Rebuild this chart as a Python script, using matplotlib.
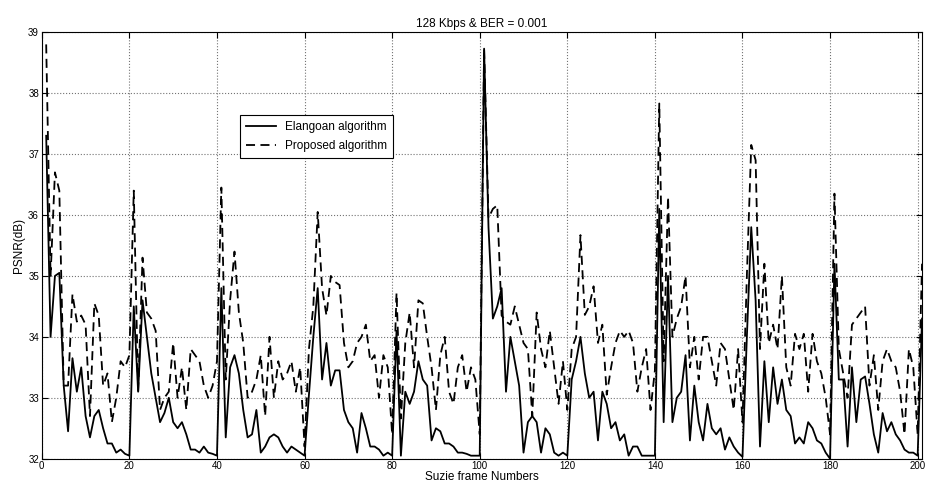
import numpy as np
from matplotlib import pyplot as plt

plt.rcParams['font.family'] = ['Liberation Sans', 'DejaVu Sans']

# frame numbers 1..201
frames = np.arange(1, 202)

# PSNR values (dB), 20 frames per row
elangoan = [
    37.3, 34.0, 35.0, 35.05, 33.2, 32.45, 33.65, 33.1, 33.5, 32.7,
    32.35, 32.7, 32.8, 32.5, 32.25, 32.25, 32.1, 32.15, 32.08, 32.05,
    34.5, 33.1, 34.6, 34.0, 33.4, 33.0, 32.6, 32.75, 33.0, 32.6,
    32.5, 32.6, 32.4, 32.15, 32.15, 32.1, 32.2, 32.1, 32.08, 32.05,
    34.8, 32.35, 33.5, 33.7, 33.4, 32.8, 32.35, 32.4, 32.8, 32.1,
    32.2, 32.35, 32.4, 32.35, 32.2, 32.1, 32.2, 32.15, 32.1, 32.05,
    33.05, 34.0, 34.8, 33.3, 33.9, 33.2, 33.45, 33.45, 32.8, 32.6,
    32.5, 32.1, 32.75, 32.5, 32.2, 32.2, 32.15, 32.05, 32.1, 32.05,
    34.1, 32.05, 33.1, 32.9, 33.1, 33.6, 33.3, 33.2, 32.3, 32.5,
    32.45, 32.25, 32.25, 32.2, 32.1, 32.1, 32.08, 32.05, 32.05, 32.05,
    38.73, 35.8, 34.3, 34.5, 34.8, 33.1, 34.0, 33.6, 33.2, 32.1,
    32.6, 32.7, 32.6, 32.1, 32.5, 32.4, 32.1, 32.05, 32.1, 32.05,
    33.3, 33.6, 34.0, 33.4, 33.0, 33.1, 32.3, 33.1, 32.9, 32.5,
    32.6, 32.3, 32.4, 32.05, 32.2, 32.2, 32.05, 32.05, 32.05, 32.05,
    36.1, 32.6, 35.0, 32.6, 33.0, 33.1, 33.7, 32.3, 33.2, 32.6,
    32.3, 32.9, 32.5, 32.4, 32.5, 32.15, 32.35, 32.2, 32.1, 32.03,
    34.0, 35.8, 34.6, 32.2, 33.6, 32.6, 33.5, 32.9, 33.3, 32.8,
    32.7, 32.25, 32.35, 32.25, 32.6, 32.5, 32.3, 32.25, 32.1, 32.0,
    35.2, 33.3, 33.3, 32.2, 33.5, 32.6, 33.3, 33.35, 32.9, 32.4,
    32.1, 32.75, 32.45, 32.6, 32.4, 32.3, 32.15, 32.1, 32.1, 32.05,
    34.3,
]

proposed = [
    38.8, 35.0, 36.7, 36.4, 33.2, 33.2, 34.7, 34.25, 34.35, 34.2,
    32.7, 34.55, 34.35, 33.2, 33.4, 32.6, 33.0, 33.6, 33.5, 33.7,
    36.4, 33.1, 35.3, 34.4, 34.3, 34.1, 32.8, 33.0, 33.1, 33.9,
    33.0, 33.5, 32.8, 33.8, 33.7, 33.6, 33.2, 33.0, 33.2, 33.6,
    36.45, 33.3, 34.6, 35.4, 34.4, 33.9, 33.0, 33.1, 33.3, 33.7,
    32.7, 34.0, 33.0, 33.6, 33.3, 33.4, 33.6, 33.1, 33.5, 32.2,
    33.8, 34.5, 36.05, 34.8, 34.35, 35.0, 34.9, 34.85, 33.9, 33.5,
    33.6, 33.9, 34.0, 34.2, 33.6, 33.7, 33.0, 33.7, 33.5, 32.4,
    34.72, 32.66, 33.9, 34.4, 33.5, 34.6, 34.55, 34.0, 33.5, 32.8,
    33.7, 34.0, 33.1, 32.9, 33.5, 33.7, 33.1, 33.5, 33.3, 32.4,
    38.73, 35.95, 36.1, 36.16, 34.35, 34.25, 34.2, 34.5, 34.2, 33.9,
    33.8, 32.7, 34.4, 33.8, 33.5, 34.1, 33.5, 32.9, 33.6, 32.8,
    33.8, 34.0, 35.67, 34.36, 34.5, 34.83, 33.9, 34.2, 33.05, 33.5,
    33.9, 34.1, 34.0, 34.1, 33.9, 33.1, 33.5, 33.8, 32.8, 33.45,
    37.83, 33.6, 36.3, 34.0, 34.3, 34.5, 35.0, 33.5, 34.0, 33.3,
    34.0, 34.0, 33.6, 33.2, 33.9, 33.8, 33.3, 32.8, 33.8, 32.6,
    35.0, 37.15, 36.9, 33.8, 35.2, 33.9, 34.2, 33.8, 35.0, 33.5,
    33.2, 34.05, 33.8, 34.05, 33.1, 34.05, 33.6, 33.4, 33.0, 32.4,
    36.35, 33.8, 33.4, 33.0, 34.2, 34.3, 34.4, 34.5, 33.2, 33.7,
    32.8, 33.6, 33.8, 33.6, 33.5, 33.1, 32.4, 33.8, 33.5, 32.4,
    35.2,
]

fig = plt.figure(figsize=(9.29, 4.88), dpi=100)
ax = fig.add_axes([0.045, 0.06, 0.9475, 0.874])

ax.plot(frames, elangoan, color='black', linestyle='-', linewidth=1.3, label='Elangoan algorithm')
ax.plot(frames, proposed, color='black', linestyle='--', dashes=(5, 3), linewidth=1.3, label='Proposed algorithm')

ax.set_xlim(0, 201)
ax.set_ylim(32, 39)
ax.set_xticks(np.arange(0, 201, 20))
ax.set_yticks(np.arange(32, 40, 1))
ax.tick_params(direction='in', length=4, labelsize=7, top=True, right=True, pad=2)
ax.grid(True, linestyle=':', color='0.45', linewidth=0.8)

ax.set_title('128 Kbps & BER = 0.001', fontsize=8.5, pad=4)
ax.set_xlabel('Suzie frame Numbers', fontsize=8.5, labelpad=0)
ax.set_ylabel('PSNR(dB)', fontsize=8.5, labelpad=2)

leg = ax.legend(loc='upper left', bbox_to_anchor=(0.219, 0.82), fontsize=8.5,
                frameon=True, fancybox=False, edgecolor='black', framealpha=1,
                handlelength=2.5, borderpad=0.5, labelspacing=0.6)
leg.get_frame().set_linewidth(0.8)

plt.savefig('out.png', dpi=100)
